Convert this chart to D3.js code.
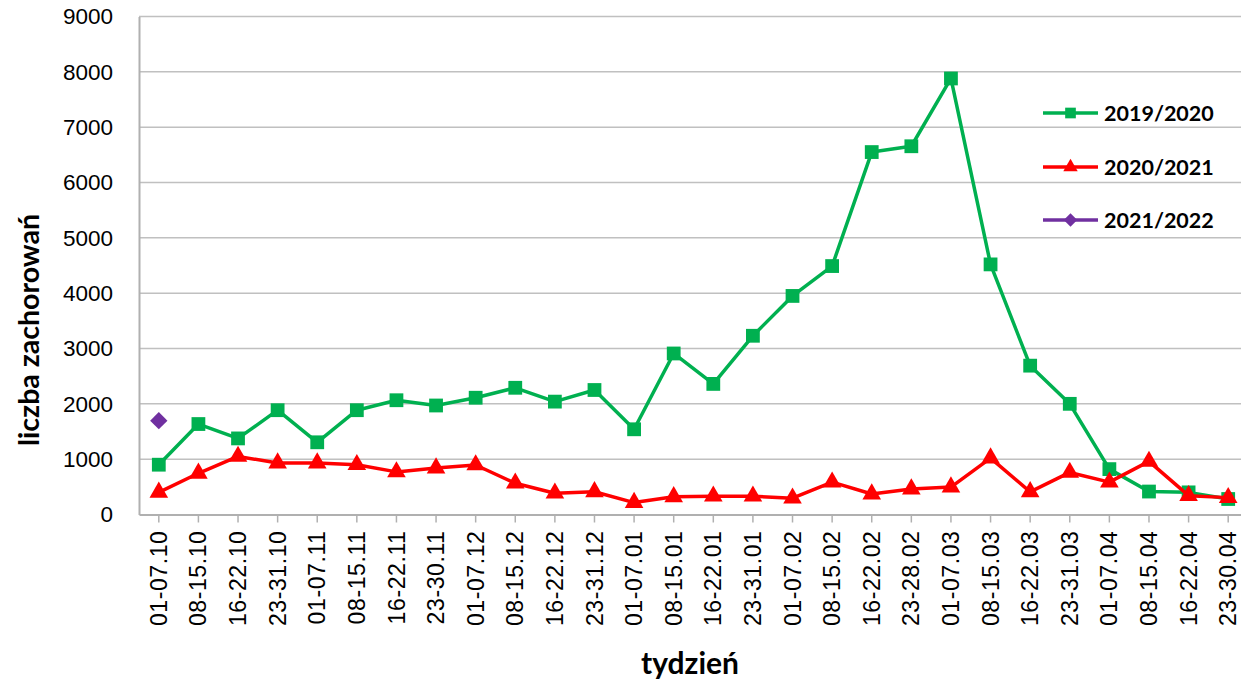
<!DOCTYPE html>
<html>
<head>
<meta charset="utf-8">
<script src="https://cdn.jsdelivr.net/npm/d3@7"></script>
<style>
  body { margin: 0; background: #fff; }
  svg { font-family: Lato, "Open Sans", sans-serif; }
</style>
</head>
<body>
<div id="chart"></div>
<script>
// week labels
var weeks = ["01-07.10", "08-15.10", "16-22.10", "23-31.10", "01-07.11", "08-15.11", "16-22.11",
    "23-30.11", "01-07.12", "08-15.12", "16-22.12", "23-31.12", "01-07.01", "08-15.01",
    "16-22.01", "23-31.01", "01-07.02", "08-15.02", "16-22.02", "23-28.02", "01-07.03",
    "08-15.03", "16-22.03", "23-31.03", "01-07.04", "08-15.04", "16-22.04", "23-30.04"]

var season1920 = [900, 1635, 1375, 1885, 1305, 1885, 2065, 1970, 2110, 2290, 2040, 2250, 1540, 2910,
    2360, 3230, 3950, 4490, 6550, 6655, 7880, 4520, 2690, 2000, 820, 415, 400, 280]
var season2021 = [400, 745, 1050, 930, 930, 900, 770, 840, 895, 565, 385, 410, 215, 320,
    330, 330, 295, 585, 370, 460, 495, 1020, 410, 760, 585, 960, 340, 305]
var season2122 = [1695]

var yTicks = [0, 1000, 2000, 3000, 4000, 5000, 6000, 7000, 8000, 9000]

// rot: extra rotation of the marker (diamond = square turned 45deg)
var series = [
    { name: "2019/2020", values: season1920, color: "#00b050", symbol: d3.symbolSquare, size: 190, rot: 0 },
    { name: "2020/2021", values: season2021, color: "#ff0000", symbol: d3.symbolTriangle, size: 150, rot: 0 },
    { name: "2021/2022", values: season2122, color: "#7030a0", symbol: d3.symbolSquare, size: 150, rot: 45 }
]

var W = 1241, H = 680
var margin = { top: 16.5, left: 139, right: -7, bottom: 165.5 }
var width = W - margin.left - margin.right,
    height = H - margin.top - margin.bottom

var svg = d3.select("#chart").append("svg")
    .attr("width", W)
    .attr("height", H)

var g = svg.append("g")
    .attr("transform", "translate(" + margin.left + "," + margin.top + ")")

var x = d3.scaleBand()
    .domain(weeks)
    .range([0, width])

var y = d3.scaleLinear()
    .domain([0, 9000])
    .range([height, 0])

// gridlines
g.append("g")
    .selectAll("line")
    .data(yTicks.slice(1))
    .enter().append("line")
    .attr("x1", 0)
    .attr("x2", width)
    .attr("y1", function (d) { return y(d) })
    .attr("y2", function (d) { return y(d) })
    .attr("stroke", "#c0c0c0")
    .attr("stroke-width", 1.5)

// Y axis
var yAxis = g.append("g")
    .call(d3.axisLeft(y).tickValues(yTicks).tickFormat(d3.format("d")).tickSize(0).tickPadding(26))
yAxis.select(".domain").attr("stroke", "#b0b0b0").attr("stroke-width", 2)
yAxis.selectAll("text")
    .style("font-size", "22.5px")
    .attr("fill", "#000")

// X axis
var xAxis = g.append("g")
    .attr("transform", "translate(0," + height + ")")
    .call(d3.axisBottom(x).tickSize(8).tickSizeOuter(0))
xAxis.select(".domain").attr("stroke", "#b0b0b0").attr("stroke-width", 2)
xAxis.selectAll(".tick line").attr("stroke", "#b0b0b0").attr("stroke-width", 1.5)
xAxis.selectAll("text")
    .style("font-size", "23px")
    .style("letter-spacing", "0.6px")
    .attr("fill", "#000")
    .attr("transform", "rotate(-90)")
    .attr("text-anchor", "end")
    .attr("dy", "0.35em")
    .attr("x", -16)
    .attr("y", 0)

// lines + markers
var line = d3.line()
    .x(function (d, i) { return x(weeks[i]) + x.bandwidth() / 2 })
    .y(function (d) { return y(d) })

series.forEach(function (s) {
    if (s.values.length > 1) {
        g.append("path")
            .datum(s.values)
            .attr("fill", "none")
            .attr("stroke", s.color)
            .attr("stroke-width", 3.5)
            .attr("stroke-linejoin", "round")
            .attr("d", line)
    }
    g.append("g")
        .selectAll("path")
        .data(s.values)
        .enter().append("path")
        .attr("d", d3.symbol().type(s.symbol).size(s.size))
        .attr("fill", s.color)
        .attr("transform", function (d, i) {
            return "translate(" + (x(weeks[i]) + x.bandwidth() / 2) + "," + y(d) + ") rotate(" + s.rot + ")"
        })
})

// legend
var legend = svg.append("g")
    .selectAll("g")
    .data(series)
    .enter().append("g")
    .attr("transform", function (d, i) { return "translate(1043," + [113, 167, 220][i] + ")" })

legend.append("line")
    .attr("x1", 0).attr("x2", 55)
    .attr("stroke", function (d) { return d.color })
    .attr("stroke-width", 3.5)
legend.append("path")
    .attr("transform", function (d) { return "translate(27.5,0) rotate(" + d.rot + ")" })
    .attr("d", function (d) { return d3.symbol().type(d.symbol).size(d.size * 0.6)() })
    .attr("fill", function (d) { return d.color })
legend.append("text")
    .attr("x", 61)
    .attr("dy", "0.36em")
    .style("font-size", "21.5px")
    .style("font-weight", "bold")
    .text(function (d) { return d.name })

// axis titles
svg.append("text")
    .attr("transform", "translate(39,330) rotate(-90)")
    .attr("text-anchor", "middle")
    .style("font-size", "28.5px")
    .style("font-weight", "bold")
    .text("liczba zachorowań")

svg.append("text")
    .attr("x", 690)
    .attr("y", 674)
    .attr("text-anchor", "middle")
    .style("font-size", "30px")
    .style("font-weight", "bold")
    .text("tydzień")
</script>
</body>
</html>
